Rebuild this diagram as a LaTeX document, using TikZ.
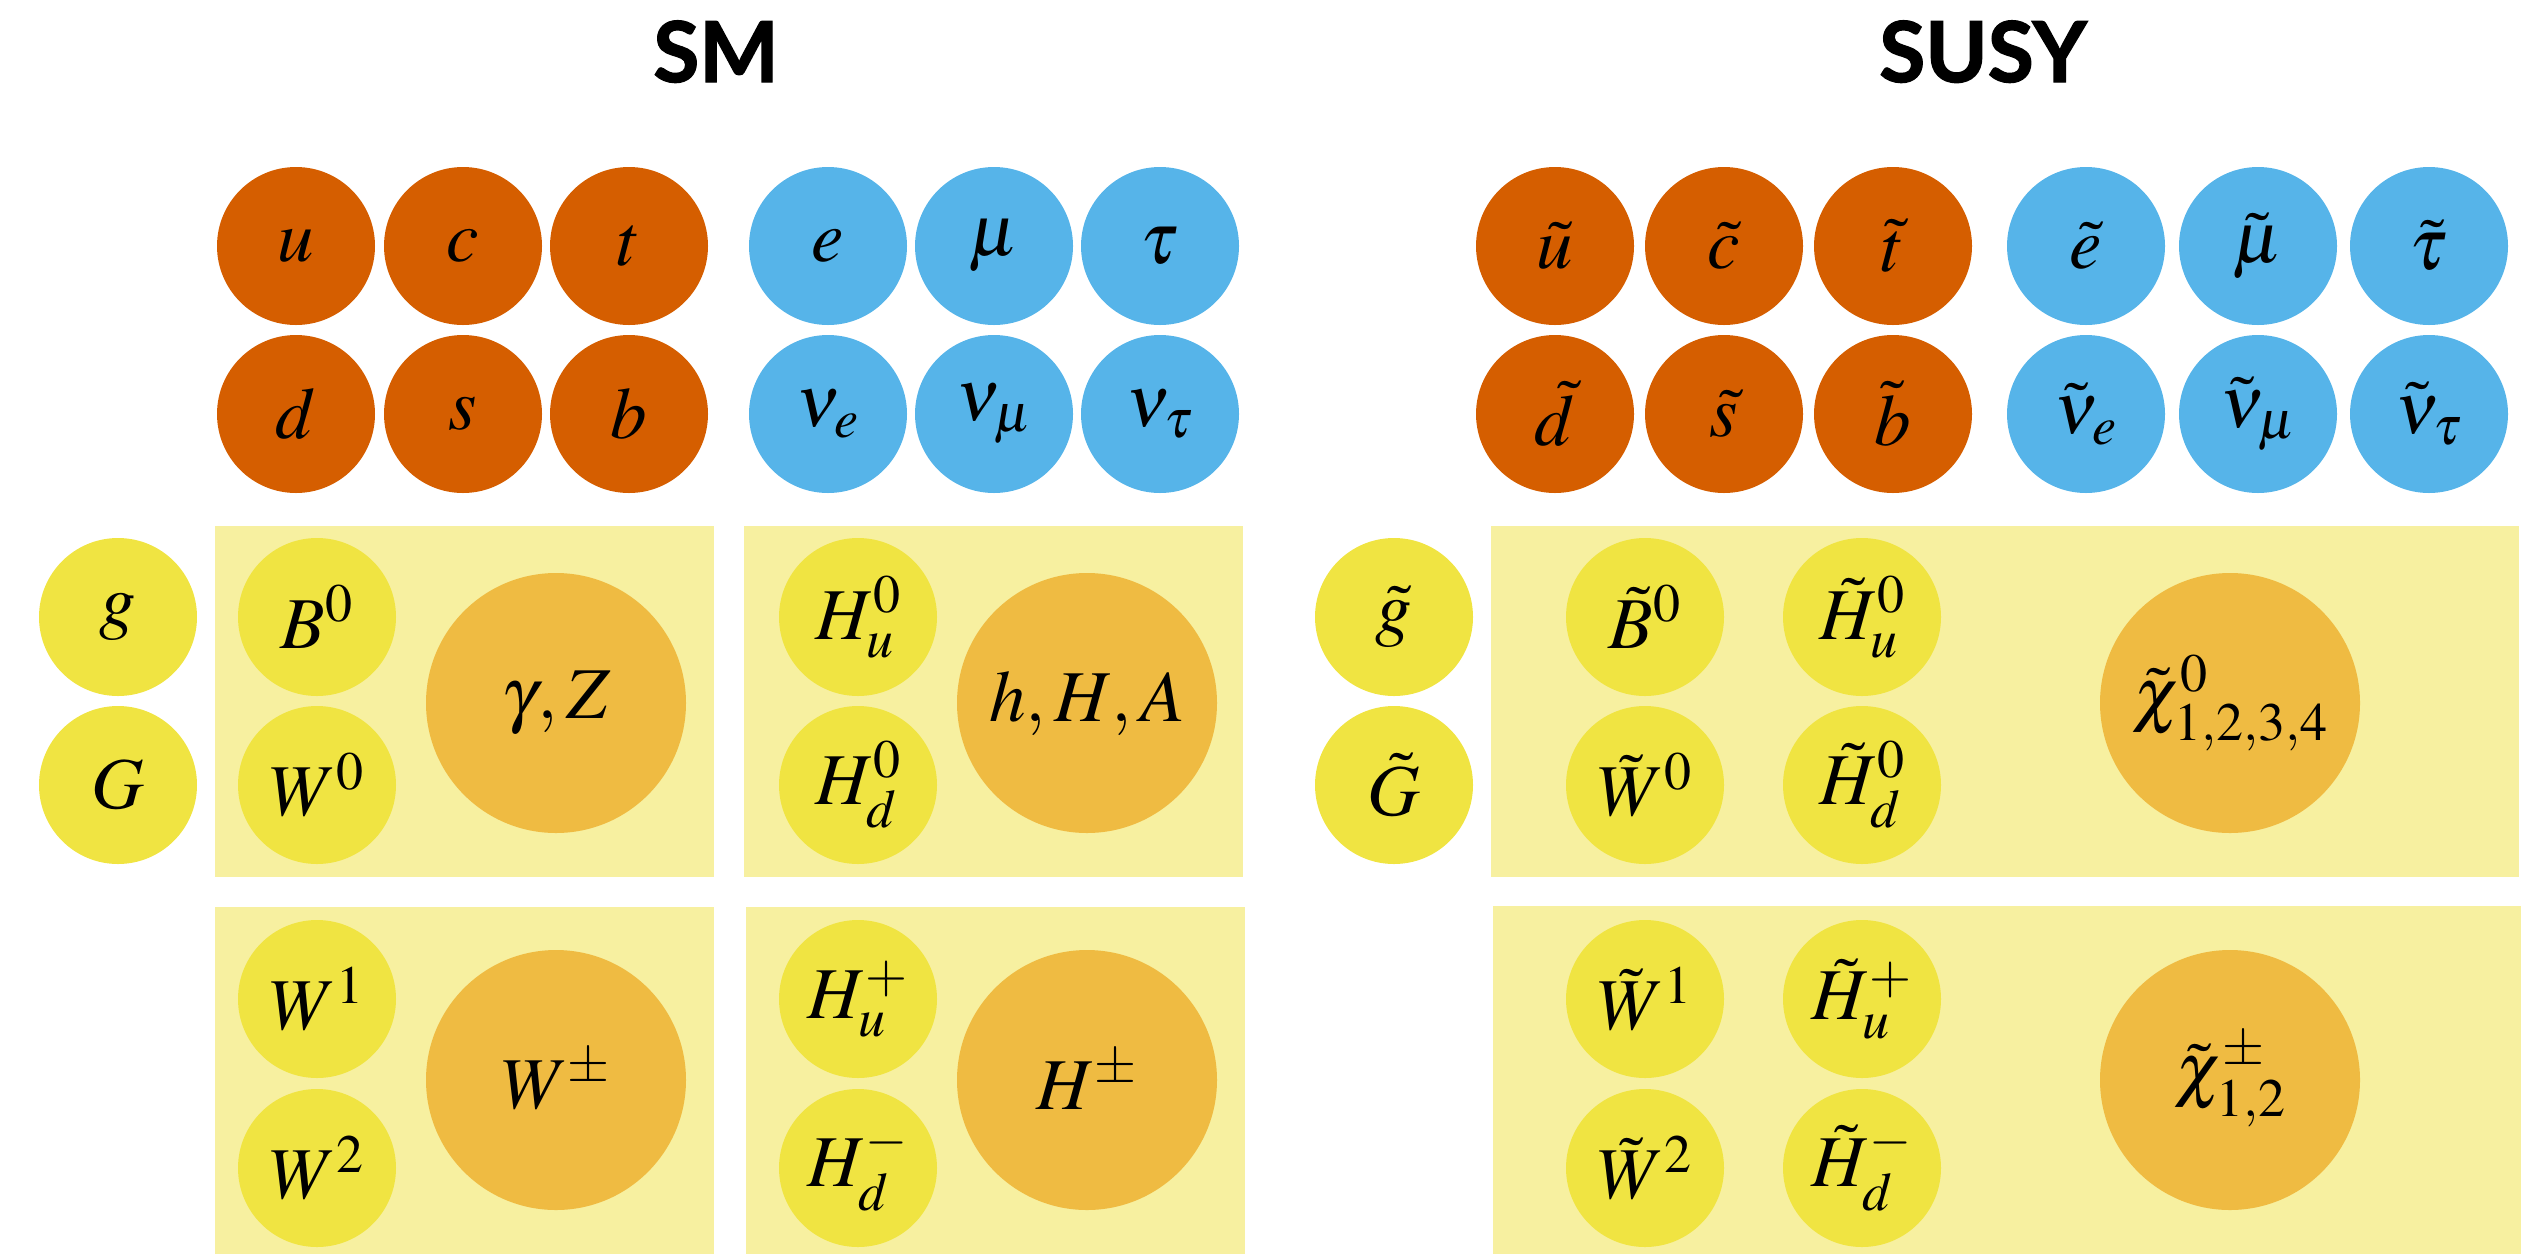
\documentclass[tikz,border=0pt]{standalone}
\usepackage{mathptmx}
\usepackage{fontspec}
\newfontfamily\titlefont[BoldFeatures={FakeBold=1.6}]{Lato}
\definecolor{qcol}{RGB}{213,94,0}
\definecolor{lcol}{RGB}{86,180,233}
\definecolor{ycol}{RGB}{240,228,66}
\definecolor{bcol}{RGB}{247,240,160}
\definecolor{ocol}{RGB}{239,187,66}
\tikzset{
  part/.style={circle, inner sep=0pt, minimum size=158pt, font=\fontsize{73}{80}\selectfont},
  quark/.style={part, fill=qcol},
  lepton/.style={part, fill=lcol},
  gauge/.style={part, fill=ycol},
  mixed/.style={part, minimum size=260pt, fill=ocol},
  panel/.style={fill=bcol},
  heading/.style={anchor=base, font=\titlefont\bfseries\fontsize{84}{90}\selectfont}
}
\begin{document}
\begin{tikzpicture}[x=1pt,y=-1pt]
\useasboundingbox (0,0) rectangle (2535,1254);
% titles
\node[heading] (smtitle) at (716,82) {SM};
\node[heading] (susytitle) at (1983,82) {SUSY};
% panels
\fill[panel] (215,526) rectangle (714,877);
\fill[panel] (744,526) rectangle (1243,877);
\fill[panel] (215,907) rectangle (714,1254);
\fill[panel] (746,907) rectangle (1245,1254);
\fill[panel] (1491,526) rectangle (2519,877);
\fill[panel] (1493,906) rectangle (2521,1254);
% SM fermions
\node[quark] (u) at (296,246) {$u$};
\node[quark] (c) at (463,246) {$c$};
\node[quark] (t) at (629,246) {$t$};
\node[quark] (d) at (296,414) {$d$};
\node[quark] (s) at (463,414) {$s$};
\node[quark] (b) at (629,414) {$b$};
\node[lepton] (e) at (828,246) {$e$};
\node[lepton] (mu) at (994,246) {$\mu$};
\node[lepton] (tau) at (1160,246) {$\tau$};
\node[lepton] (nue) at (828,414) {$\nu_e$};
\node[lepton] (numu) at (994,414) {$\nu_\mu$};
\node[lepton] (nutau) at (1160,414) {$\nu_\tau$};
% SM bosons
\node[gauge] (g) at (118,617) {$g$};
\node[gauge] (G) at (118,785) {$G$};
\node[gauge] (B0) at (317,617) {$B^0$};
\node[gauge] (W0) at (317,785) {$W^0$};
\node[mixed] (gZ) at (556,703) {$\gamma{,}\mkern2mu Z$};
\node[gauge] (Hu0) at (858,617) {$H_u^0$};
\node[gauge] (Hd0) at (858,785) {$H_d^0$};
\node[mixed] (hHA) at (1087,703) {$h{,}\mkern2mu H{,}\mkern2mu A$};
\node[gauge] (W1) at (317,999) {$W^1$};
\node[gauge] (W2) at (317,1168) {$W^2$};
\node[mixed] (Wpm) at (556,1080) {$W^\pm$};
\node[gauge] (Hup) at (858,999) {$H_u^+$};
\node[gauge] (Hdm) at (858,1168) {$H_d^-$};
\node[mixed] (Hpm) at (1087,1080) {$H^\pm$};
% SUSY sfermions
\node[quark] (su) at (1555,246) {$\tilde u$};
\node[quark] (sc) at (1724,246) {$\tilde c$};
\node[quark] (st) at (1893,246) {$\tilde t$};
\node[quark] (sd) at (1555,414) {$\tilde d$};
\node[quark] (ss) at (1724,414) {$\tilde s$};
\node[quark] (sb) at (1893,414) {$\tilde b$};
\node[lepton] (se) at (2086,246) {$\tilde e$};
\node[lepton] (smu) at (2258,246) {$\tilde \mu$};
\node[lepton] (stau) at (2429,246) {$\tilde \tau$};
\node[lepton] (snue) at (2086,414) {$\tilde\nu_e$};
\node[lepton] (snumu) at (2258,414) {$\tilde\nu_\mu$};
\node[lepton] (snutau) at (2429,414) {$\tilde\nu_\tau$};
% SUSY bosinos
\node[gauge] (sg) at (1394,617) {$\tilde g$};
\node[gauge] (sG) at (1394,785) {$\tilde G$};
\node[gauge] (sB0) at (1645,617) {$\tilde B^0$};
\node[gauge] (sW0) at (1645,785) {$\tilde W^0$};
\node[gauge] (sHu0) at (1862,617) {$\tilde H_u^0$};
\node[gauge] (sHd0) at (1862,785) {$\tilde H_d^0$};
\node[mixed] (chi0) at (2230,703) {$\tilde\chi^0_{1{,}2{,}3{,}4}$};
\node[gauge] (sW1) at (1645,999) {$\tilde W^1$};
\node[gauge] (sW2) at (1645,1168) {$\tilde W^2$};
\node[gauge] (sHup) at (1862,999) {$\tilde H_u^+$};
\node[gauge] (sHdm) at (1862,1168) {$\tilde H_d^-$};
\node[mixed] (chipm) at (2230,1080) {$\tilde\chi^\pm_{1{,}2}$};
\end{tikzpicture}
\end{document}
